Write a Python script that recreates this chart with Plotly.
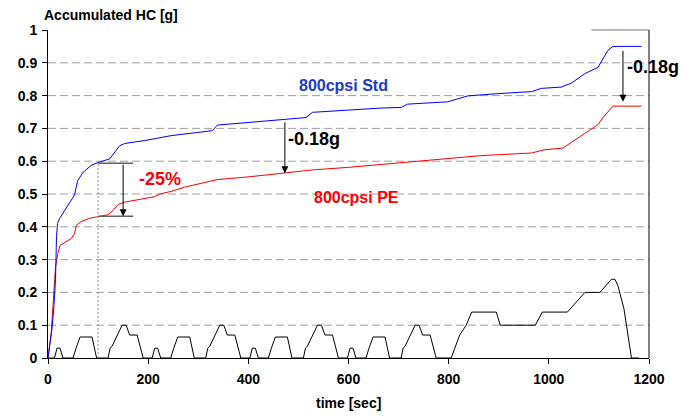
import plotly.graph_objects as go

# ---- data ----
t_std = [0, 4, 8, 12, 15, 17, 19, 23, 33, 46, 53, 59, 70, 86, 100, 123, 133, 143, 153, 193, 246, 273,
         328, 338, 398, 472, 515, 528, 598, 665, 705, 718, 798, 838, 898, 965, 985, 1025, 1045, 1065,
         1072, 1098, 1108, 1118, 1128, 1185]
hc_std = [0, 0.045, 0.09, 0.16, 0.24, 0.37, 0.41, 0.425, 0.45, 0.48, 0.497, 0.54, 0.566, 0.587, 0.596,
          0.607, 0.627, 0.647, 0.654, 0.663, 0.678, 0.683, 0.693, 0.71, 0.718, 0.726, 0.733, 0.749, 0.756,
          0.762, 0.764, 0.774, 0.781, 0.799, 0.806, 0.812, 0.822, 0.826, 0.838, 0.86, 0.867, 0.886, 0.911,
          0.938, 0.95, 0.95]

t_pe = [0, 2, 6, 10, 12, 14, 15, 19.6, 24, 46, 53, 56.4, 66, 83, 100, 120, 130, 140, 153, 193, 213, 223,
        246, 273, 318, 338, 405, 472, 532, 598, 665, 732, 832, 865, 965, 992, 1028, 1045, 1065, 1072,
        1098, 1108, 1128, 1185]
hc_pe = [0, 0.03, 0.07, 0.16, 0.21, 0.26, 0.277, 0.318, 0.343, 0.364, 0.379, 0.404, 0.416, 0.426, 0.432,
         0.437, 0.45, 0.468, 0.475, 0.485, 0.492, 0.5, 0.508, 0.521, 0.536, 0.544, 0.553, 0.563, 0.574,
         0.581, 0.59, 0.597, 0.612, 0.617, 0.625, 0.635, 0.64, 0.658, 0.678, 0.685, 0.711, 0.733, 0.768,
         0.768]

t_speed = [0, 13, 18, 24, 30, 50, 56, 64, 88, 94, 97, 120, 124, 128, 138, 148, 156, 163, 178, 186, 190,
           195, 208, 213, 219, 225, 245, 251, 259, 283, 289, 292, 315, 319, 323, 333, 343, 351, 358, 373, 381, 385,
           390, 403, 408, 414, 420, 440, 446, 454, 478, 484, 487, 510, 514, 518, 528, 538, 546, 553, 568, 576, 580,
           585, 598, 603, 609, 615, 635, 641, 649, 673, 679, 682, 705, 709, 713, 723, 733, 741, 748, 763, 771, 775,
           805, 812, 822, 835, 846, 895, 903, 973, 987, 1037, 1072, 1102, 1125, 1132, 1138, 1150, 1165, 1180]
v_speed = [0, 0, 0.03, 0.03, 0, 0, 0.03, 0.064, 0.064, 0.02, 0, 0, 0.03, 0.036, 0.07, 0.1, 0.1, 0.07, 0.07, 0.02, 0,
           0, 0, 0.03, 0.03, 0, 0, 0.03, 0.064, 0.064, 0.02, 0, 0, 0.03, 0.036, 0.07, 0.1, 0.1, 0.07, 0.07, 0.02, 0,
           0, 0, 0.03, 0.03, 0, 0, 0.03, 0.064, 0.064, 0.02, 0, 0, 0.03, 0.036, 0.07, 0.1, 0.1, 0.07, 0.07, 0.02, 0,
           0, 0, 0.03, 0.03, 0, 0, 0.03, 0.064, 0.064, 0.02, 0, 0, 0.03, 0.036, 0.07, 0.1, 0.1, 0.07, 0.07, 0.02, 0,
           0, 0.03, 0.07, 0.1, 0.14, 0.14, 0.1, 0.1, 0.14, 0.14, 0.2, 0.2, 0.24, 0.24, 0.22, 0.15, 0, 0]

grid_vals = [0.1, 0.2, 0.3, 0.4, 0.5, 0.6, 0.7, 0.8, 0.9]
x_ticks = [0, 200, 400, 600, 800, 1000, 1200]
y_ticks = [0, 0.1, 0.2, 0.3, 0.4, 0.5, 0.6, 0.7, 0.8, 0.9, 1]
y_labels = ["0", "0.1", "0.2", "0.3", "0.4", "0.5", "0.6", "0.7", "0.8", "0.9", "1"]

# annotation values
ref_t = 100
std_at_ref = 0.594
pe_at_ref = 0.432
arrow0_t = 150
arrow1_t, arrow1_top, arrow1_bot = 473, 0.723, 0.563
arrow2_t, arrow2_top, arrow2_bot = 1148, 0.941, 0.781

FONT = "Liberation Sans, Arial, sans-serif"

fig = go.Figure()
fig.add_trace(go.Scatter(x=t_speed, y=v_speed, mode="lines", line=dict(color="black", width=1), hoverinfo="skip"))
fig.add_trace(go.Scatter(x=t_pe, y=hc_pe, mode="lines", line=dict(color="#ff0000", width=1)))
fig.add_trace(go.Scatter(x=t_std, y=hc_std, mode="lines", line=dict(color="#0000ff", width=1)))

shapes = []
for g in grid_vals:
    shapes.append(dict(type="line", xref="paper", x0=0, x1=1, yref="y", y0=g, y1=g, layer="below",
                       line=dict(color="#a0a0a0", width=1, dash="8px,4px")))
shapes.append(dict(type="line", xref="x", x0=ref_t, x1=ref_t, yref="y", y0=0, y1=std_at_ref,
                   line=dict(color="#909090", width=1, dash="2px,2px")))
shapes.append(dict(type="line", xref="x", x0=ref_t, x1=170, yref="y", y0=std_at_ref, y1=std_at_ref,
                   line=dict(color="#606060", width=1.5)))
shapes.append(dict(type="line", xref="x", x0=ref_t, x1=170, yref="y", y0=pe_at_ref, y1=pe_at_ref,
                   line=dict(color="#606060", width=1.5)))
shapes.append(dict(type="line", xref="x", x0=1085, x1=1200, yref="paper", y0=1, y1=1,
                   line=dict(color="#707070", width=1)))
shapes.append(dict(type="line", xref="paper", x0=1, x1=1, yref="paper", y0=0, y1=1,
                   line=dict(color="black", width=1)))

annotations = [
    dict(text="<b>Accumulated HC [g]</b>", xref="paper", yref="paper", x=0, y=1, xanchor="left", yanchor="bottom",
         yshift=5, xshift=-6, showarrow=False, font=dict(family=FONT, size=14, color="black")),
    dict(text="<b>time [sec]</b>", xref="paper", yref="paper", x=0.5, y=0, xanchor="center", yanchor="middle",
         yshift=-45, showarrow=False, font=dict(family=FONT, size=14, color="black")),
    dict(text="<b>800cpsi Std</b>", x=591, y=0.831, xref="x", yref="y", showarrow=False,
         font=dict(family=FONT, size=16, color="#1a3ad0")),
    dict(text="<b>800cpsi PE</b>", x=616, y=0.49, xref="x", yref="y", showarrow=False,
         font=dict(family=FONT, size=16, color="#ff0000")),
    dict(text="<b>-25%</b>", x=223, y=0.546, xref="x", yref="y", showarrow=False,
         font=dict(family=FONT, size=18, color="#ff0000")),
    dict(text="<b>-0.18g</b>", x=531, y=0.668, xref="x", yref="y", showarrow=False,
         font=dict(family=FONT, size=18, color="black")),
    dict(text="<b>-0.18g</b>", x=arrow2_t, y=0.888, xref="x", yref="y", xanchor="left", xshift=2,
         showarrow=False, font=dict(family=FONT, size=18, color="black")),
]
for (at, top, bot) in [(arrow0_t, std_at_ref, pe_at_ref), (arrow1_t, arrow1_top, arrow1_bot),
                       (arrow2_t, arrow2_top, arrow2_bot)]:
    annotations.append(dict(text="", x=at, y=bot, ax=at, ay=top, xref="x", yref="y", axref="x", ayref="y",
                            showarrow=True, arrowhead=2, arrowsize=1.4, arrowwidth=1, arrowcolor="black",
                            standoff=0))

fig.update_layout(
    width=694, height=418,
    margin=dict(l=47.5, r=45, t=30, b=60),
    paper_bgcolor="white", plot_bgcolor="white",
    showlegend=False,
    shapes=shapes, annotations=annotations,
    font=dict(family=FONT, color="black"),
    xaxis=dict(range=[0, 1200], tickvals=x_ticks, ticks="outside", ticklen=5, tickcolor="black",
               showline=True, linecolor="black", linewidth=1, showgrid=False, zeroline=False,
               ticklabelstandoff=3, automargin=False,
               tickfont=dict(family=FONT, size=14, color="black", weight="bold")),
    yaxis=dict(range=[0, 1], tickvals=y_ticks, ticktext=y_labels, ticks="outside", ticklen=5, tickcolor="black",
               showline=True, linecolor="black", linewidth=1, showgrid=False, zeroline=False,
               ticklabelstandoff=2, automargin=False,
               tickfont=dict(family=FONT, size=14, color="black", weight="bold")),
)

fig.write_html("out.html")
